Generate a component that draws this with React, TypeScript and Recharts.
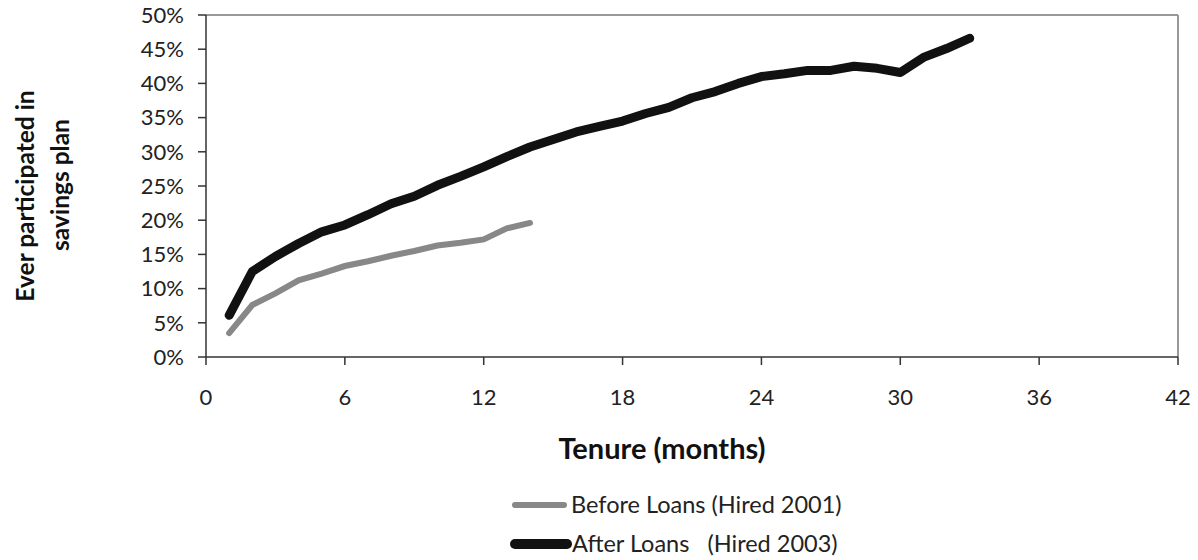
import { LineChart, Line, XAxis, YAxis, ReferenceLine, Legend } from 'recharts'

const months = [1, 2, 3, 4, 5, 6, 7, 8, 9, 10, 11, 12, 13, 14, 15, 16, 17, 18, 19, 20, 21, 22, 23, 24, 25, 26, 27, 28, 29, 30, 31, 32, 33]

// share ever participated, in %
const beforeLoans = [3.5, 7.6, 9.3, 11.2, 12.2, 13.3, 14.0, 14.8, 15.5, 16.3, 16.7, 17.2, 18.8, 19.6]
const afterLoans = [
  6.1, 12.5, 14.7, 16.6, 18.3, 19.3, 20.8, 22.4, 23.5, 25.1, 26.4, 27.8, 29.3, 30.7, 31.8, 32.9, 33.7,
  34.5, 35.6, 36.5, 37.9, 38.8, 40.0, 41.0, 41.4, 41.9, 41.9, 42.5, 42.2, 41.6, 43.8, 45.1, 46.6,
]

const xTicks = [0, 6, 12, 18, 24, 30, 36, 42]
const yTicks = [0, 5, 10, 15, 20, 25, 30, 35, 40, 45, 50]

const data = months.map((m, i) => ({
  month: m,
  before: i < beforeLoans.length ? beforeLoans[i] : null,
  after: afterLoans[i],
}))

const font = 'Lato, Open Sans, sans-serif'

function LegendBox() {
  return (
    <div style={{ fontFamily: font, fontSize: 23.5, color: '#222', lineHeight: '39px', textAlign: 'left' }}>
      <div style={{ display: 'flex', alignItems: 'center' }}>
        <span style={{ display: 'inline-block', width: 55, height: 6, background: '#888', borderRadius: 3, marginLeft: 2 }} />
        <span style={{ marginLeft: 4 }}>Before Loans (Hired 2001)</span>
      </div>
      <div style={{ display: 'flex', alignItems: 'center' }}>
        <span style={{ display: 'inline-block', width: 62, height: 10, background: '#111', borderRadius: 5 }} />
        <span style={{ whiteSpace: 'pre' }}>After Loans   (Hired 2003)</span>
      </div>
    </div>
  )
}

export default function App() {
  return (
    <div style={{ position: 'absolute', left: 0, top: 0, width: 1198, height: 560, background: '#fff' }}>
      <LineChart width={1198} height={560} data={data} margin={{ top: 15, right: 20, bottom: 173, left: 146 }}>
        <XAxis
          dataKey="month"
          type="number"
          domain={[0, 42]}
          ticks={xTicks}
          stroke="#333"
          strokeWidth={1.5}
          tickSize={8}
          tickMargin={24}
          height={30}
          tick={{ fill: '#222', fontSize: 22, fontFamily: font }}
        />
        <YAxis
          type="number"
          domain={[0, 50]}
          ticks={yTicks}
          tickFormatter={(v) => `${v}%`}
          stroke="#333"
          strokeWidth={1.5}
          tickSize={8}
          tickMargin={14}
          width={60}
          tick={{ fill: '#222', fontSize: 22, fontFamily: font }}
        />
        <ReferenceLine y={50} stroke="#999" strokeWidth={2} />
        <ReferenceLine x={42} stroke="#999" strokeWidth={2} />
        <Line
          dataKey="before"
          stroke="#888"
          strokeWidth={6}
          dot={false}
          strokeLinecap="round"
          connectNulls={false}
          isAnimationActive={false}
        />
        <Line
          dataKey="after"
          stroke="#111"
          strokeWidth={9}
          dot={false}
          strokeLinecap="round"
          strokeLinejoin="round"
          isAnimationActive={false}
        />
        <Legend
          content={<LegendBox />}
          layout="vertical"
          verticalAlign="middle"
          align="center"
          wrapperStyle={{ left: 510, top: 485, width: 420, height: 80 }}
        />
      </LineChart>
      <svg
        width={1198}
        height={560}
        style={{ position: 'absolute', left: 0, top: 0, pointerEvents: 'none' }}
      >
        <g fontFamily={font} fontWeight={700} fill="#111" textAnchor="middle">
          <text x={34} y={196} fontSize={24.5} transform="rotate(-90 34 196)">Ever participated in</text>
          <text x={69} y={185} fontSize={24.5} transform="rotate(-90 69 185)">savings plan</text>
          <text x={662} y={459} fontSize={29}>Tenure (months)</text>
        </g>
      </svg>
    </div>
  )
}
